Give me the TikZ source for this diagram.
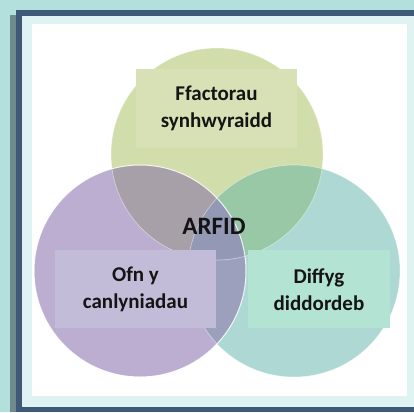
\documentclass[tikz,border=0pt]{standalone}
\usepackage{fontspec}
\setmainfont{Carlito}
\definecolor{bgteal}{HTML}{B3DFDD}
\definecolor{shadowgrey}{HTML}{6E8C8C}
\definecolor{framedark}{HTML}{3D5A78}
\definecolor{framelight}{HTML}{DFF3F2}
\definecolor{cgreen}{HTML}{D2DDAC}
\definecolor{cpurple}{HTML}{BBAED0}
\definecolor{cteal}{HTML}{AED8D3}
\definecolor{cgp}{HTML}{A8A0A8}
\definecolor{cgt}{HTML}{98C8A5}
\definecolor{cpt}{HTML}{9CA0BD}
\definecolor{cgpt}{HTML}{9398B5}
\definecolor{bgreen}{HTML}{D7E1B5}
\definecolor{bpurple}{HTML}{C3BCD9}
\definecolor{bteal}{HTML}{B3E3D3}
\definecolor{txt}{HTML}{141414}
\tikzset{
  lbl/.style={font=\fontsize{21}{27}\selectfont\bfseries, text=txt, align=center, inner sep=0pt},
  rim/.style={draw=white, line width=0.7pt, draw opacity=0.45},
  rimstrong/.style={draw=white, line width=1pt, draw opacity=0.85}
}
\begin{document}
\begin{tikzpicture}[x=1pt,y=-1pt]
\useasboundingbox (0,0) rectangle (414,412);
% background and frame
\fill[bgteal] (0,0) rectangle (414,412);
\fill[shadowgrey] (10,15) rectangle (16,412);
\fill[framedark] (16,10) rectangle (414,412);
\fill[framelight] (22,16) rectangle (414,407);
\fill[white] (32,24) rectangle (407,396);
% circles
\def\R{106}
\coordinate (G) at (217,154);
\coordinate (P) at (140,271);
\coordinate (T) at (294,271);
\fill[cgreen] (G) circle (\R);
\fill[cpurple] (P) circle (\R);
\fill[cteal] (T) circle (\R);
\begin{scope}
  \clip (G) circle (\R);
  \fill[cgp] (P) circle (\R);
  \fill[cgt] (T) circle (\R);
\end{scope}
\begin{scope}
  \clip (P) circle (\R);
  \fill[cpt] (T) circle (\R);
  \clip (T) circle (\R);
  \fill[cgpt] (G) circle (\R);
\end{scope}
\draw[rim] (G) circle (\R);
\draw[rim] (T) circle (\R);
\draw[rimstrong] (P) circle (\R);
% label boxes
\fill[bgreen] (136,69) rectangle (297,148);
\fill[bpurple] (55,250) rectangle (216,328);
\fill[bteal] (248,250) rectangle (390,328);
\node[lbl] (sens) at (216.5,108.5) {Ffactorau\\synhwyraidd};
\node[lbl] (fear) at (135.5,289.5) {Ofn y\\canlyniadau};
\node[lbl] (lack) at (319,289.5) {Diffyg\\diddordeb};
\node[lbl, font=\fontsize{25}{27}\selectfont\bfseries] (arfid) at (214,226) {ARFID};
\end{tikzpicture}
\end{document}
